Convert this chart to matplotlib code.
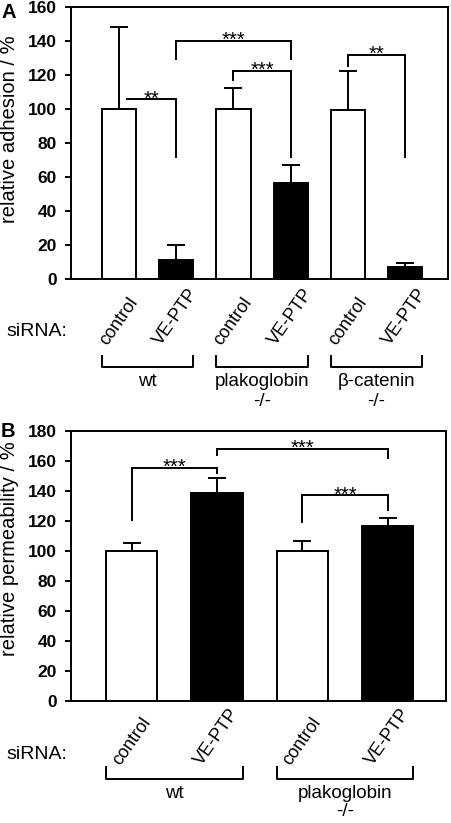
import matplotlib
matplotlib.use("Agg")
import matplotlib.pyplot as plt
from matplotlib.transforms import blended_transform_factory, offset_copy

plt.rcParams['font.family'] = ['Liberation Sans', 'DejaVu Sans']

# ---------------- data ----------------
a_labels = ["control", "VE-PTP", "control", "VE-PTP", "control", "VE-PTP"]
a_values = [100, 11.2, 100, 56.5, 99.5, 7.0]
a_errors = [48.5, 8.8, 12.5, 10.7, 23.0, 2.3]
a_colors = ["white", "black", "white", "black", "white", "black"]
a_groups = ["wt", "plakoglobin\n-/-", "\u03b2-catenin\n-/-"]
a_ticks = [0, 20, 40, 60, 80, 100, 120, 140, 160]
# brackets: (x1, x2, y, y_left_leg_end, y_right_leg_end, text)
a_brackets = [
    (0.12, 1.0, 105.7, None, 72, "**"),
    (1.0, 3.0, 140, 129.4, 129.4, "***"),
    (2.0, 3.0, 122.4, 117, 72, "***"),
    (4.0, 5.0, 132, 125.5, 72, "**"),
]

b_labels = ["control", "VE-PTP", "control", "VE-PTP"]
b_values = [100, 138.5, 100, 116.3]
b_errors = [5.5, 10.0, 6.5, 5.8]
b_colors = ["white", "black", "white", "black"]
b_groups = ["wt", "plakoglobin\n-/-"]
b_ticks = [0, 20, 40, 60, 80, 100, 120, 140, 160, 180]
b_brackets = [
    (0.0, 1.0, 155.4, 120.9, 152, "***"),
    (1.0, 3.0, 168, 164.3, 162, "***"),
    (2.0, 3.0, 137, 119.3, 127.6, "***"),
]

W, H = 452, 823
fig = plt.figure(figsize=(W / 100, H / 100), dpi=100)

LW = 1.4


def px_axes(l, t, r, b):
    return fig.add_axes([l / W, 1 - b / H, (r - l) / W, (b - t) / H])


def draw_panel(ax, labels, values, errors, colors, groups, ticks, brackets,
               ylim, xlim, ax_px, lab_bottom, sirna_off,
               br_top, br_bot, grp_off, sub_off):
    n = len(values)
    x = list(range(n))
    ax.bar(x, values, width=0.6, color=colors, edgecolor="black",
           linewidth=LW, zorder=2)
    ax.errorbar(x, values, yerr=[[0] * n, errors], fmt="none", ecolor="black",
                elinewidth=LW, capsize=6.5, capthick=LW, zorder=3)
    ax.set_xlim(*xlim)
    ax.set_ylim(*ylim)
    ax.set_yticks(ticks)
    ax.set_yticklabels([str(t) for t in ticks], fontsize=12.5, fontweight="bold")
    ax.set_xticks([])
    ax.tick_params(axis="y", direction="out", length=4, width=LW, pad=6)
    for s in ax.spines.values():
        s.set_linewidth(LW)

    # significance brackets
    for (x1, x2, y, yl, yr, txt) in brackets:
        ax.plot([x1, x2], [y, y], color="black", lw=LW, solid_capstyle="butt",
                zorder=4)
        if yl is not None:
            ax.plot([x1, x1], [y, yl], color="black", lw=LW, zorder=4)
        if yr is not None:
            ax.plot([x2, x2], [y, yr], color="black", lw=LW, zorder=4)
        tr = offset_copy(ax.transData, fig=fig, x=0, y=-3.8, units="points")
        ax.text((x1 + x2) / 2, y, txt, ha="center", va="baseline",
                fontsize=14.5, transform=tr)

    axh = ax_px
    bt = blended_transform_factory(ax.transData, ax.transAxes)
    # rotated labels
    for i, lab in enumerate(labels):
        tr = offset_copy(bt, fig=fig, x=0, y=-lab_bottom * 0.72, units="points")
        ax.text(i, 0, lab, rotation=55, ha="center", va="bottom",
                fontsize=13, transform=tr)
    # siRNA
    ax.annotate("siRNA:", xy=(0, 0), xycoords="axes fraction",
                xytext=(-4 * 0.72, -sirna_off * 0.72), textcoords="offset points",
                ha="right", va="center", fontsize=14)
    # group brackets
    for g, name in enumerate(groups):
        x1 = 2 * g - 0.3
        x2 = 2 * g + 1.3
        ax.plot([x1, x1, x2, x2],
                [-br_top / axh, -br_bot / axh, -br_bot / axh, -br_top / axh],
                color="black", lw=LW, transform=bt, clip_on=False)
        main, *rest = name.split("\n")
        ax.text((x1 + x2) / 2, -grp_off / axh, main, ha="center", va="center",
                fontsize=13.5, transform=bt)
        if rest:
            ax.text((x1 + x2) / 2, -sub_off / axh, rest[0], ha="center",
                    va="center", fontsize=13.5, transform=bt)
    return ax


# Panel A
axA = px_axes(71, 7, 448, 279)
draw_panel(axA, a_labels, a_values, a_errors, a_colors, a_groups, a_ticks,
           a_brackets, (0, 160), (-0.84, 5.75),
           272, 69, 53, 77, 88, 103, 123)
fig.text(9.5 / W, 1 - 129.5 / H, "relative adhesion / %", rotation=90,
         ha="center", va="center", fontsize=14.5)
fig.text(2 / W, 1 - 3 / H, "A", ha="left", va="top", fontsize=14.5,
         fontweight="bold")

# Panel B
axB = px_axes(71, 431, 446.5, 700.7)
draw_panel(axB, b_labels, b_values, b_errors, b_colors, b_groups, b_ticks,
           b_brackets, (0, 180), (-0.71, 3.69),
           269.7, 68, 54, 66, 78, 93, 111)
fig.text(9.5 / W, 1 - 549 / H, "relative permeability / %", rotation=90,
         ha="center", va="center", fontsize=14.5)
fig.text(1 / W, 1 - 422 / H, "B", ha="left", va="top", fontsize=14.5,
         fontweight="bold")

fig.savefig("out.png", dpi=100)
